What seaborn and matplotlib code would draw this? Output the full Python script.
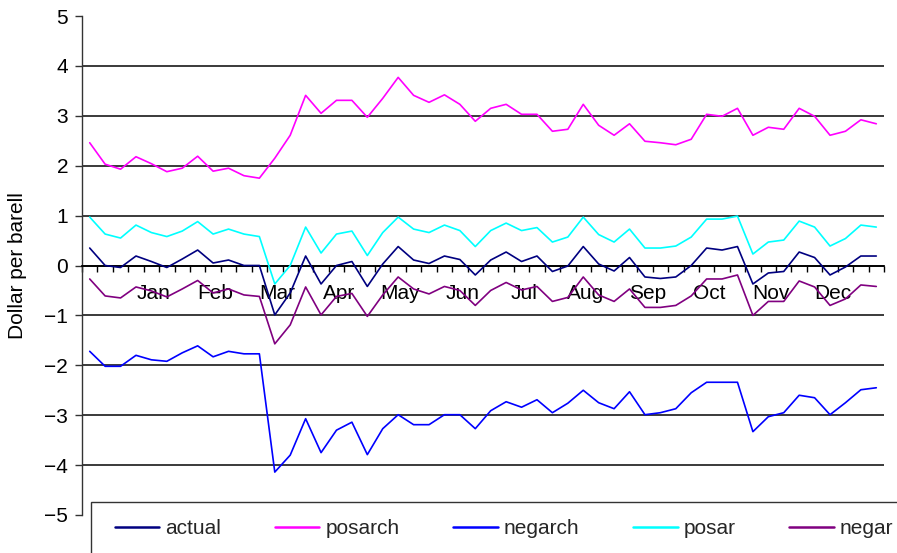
import numpy as np
import pandas as pd
import matplotlib
matplotlib.use("Agg")
import matplotlib.pyplot as plt
import seaborn as sns
from matplotlib.patches import Rectangle
from matplotlib.lines import Line2D

# Weekly oil price series (dollar per barrel), one value per week
week = list(range(52))

actual = [0.35, 0.00, -0.04, 0.19, 0.08, -0.04, 0.13, 0.31, 0.05, 0.11,
          0.00, 0.00, -0.99, -0.55, 0.19, -0.37, 0.00, 0.08, -0.42, 0.03,
          0.38, 0.11, 0.04, 0.19, 0.12, -0.19, 0.11, 0.27, 0.08, 0.19,
          -0.12, -0.01, 0.38, 0.03, -0.11, 0.16, -0.23, -0.26, -0.23, 0.00,
          0.35, 0.31, 0.38, -0.37, -0.15, -0.12, 0.27, 0.16, -0.19, -0.03,
          0.19, 0.19]

posarch = [2.46, 2.03, 1.93, 2.18, 2.04, 1.88, 1.95, 2.19, 1.89, 1.95,
           1.80, 1.75, 2.15, 2.61, 3.41, 3.05, 3.31, 3.31, 2.97, 3.35,
           3.77, 3.41, 3.27, 3.42, 3.23, 2.89, 3.15, 3.23, 3.03, 3.03,
           2.69, 2.73, 3.23, 2.81, 2.61, 2.84, 2.49, 2.46, 2.42, 2.53,
           3.03, 2.99, 3.15, 2.61, 2.77, 2.73, 3.15, 2.99, 2.61, 2.69,
           2.92, 2.84]

negarch = [-1.72, -2.02, -2.02, -1.80, -1.89, -1.92, -1.75, -1.61, -1.83, -1.72,
           -1.77, -1.77, -4.14, -3.80, -3.07, -3.75, -3.30, -3.14, -3.79, -3.27,
           -2.99, -3.19, -3.19, -2.99, -2.99, -3.27, -2.91, -2.73, -2.84, -2.69,
           -2.95, -2.76, -2.50, -2.75, -2.87, -2.53, -2.99, -2.95, -2.87, -2.55,
           -2.34, -2.34, -2.34, -3.33, -3.03, -2.95, -2.60, -2.65, -2.99, -2.75,
           -2.49, -2.45]

posar = [0.97, 0.63, 0.55, 0.81, 0.66, 0.58, 0.69, 0.88, 0.63, 0.73,
         0.63, 0.58, -0.37, 0.00, 0.77, 0.25, 0.63, 0.69, 0.20, 0.66,
         0.97, 0.73, 0.66, 0.81, 0.70, 0.38, 0.70, 0.85, 0.70, 0.76,
         0.47, 0.57, 0.97, 0.62, 0.47, 0.73, 0.35, 0.35, 0.39, 0.57,
         0.93, 0.93, 0.99, 0.23, 0.47, 0.51, 0.89, 0.77, 0.39, 0.54,
         0.81, 0.77]

negar = [-0.27, -0.61, -0.65, -0.43, -0.51, -0.63, -0.47, -0.30, -0.55, -0.47,
         -0.59, -0.62, -1.57, -1.19, -0.43, -0.99, -0.62, -0.56, -1.02, -0.59,
         -0.23, -0.47, -0.57, -0.42, -0.50, -0.80, -0.50, -0.34, -0.49, -0.42,
         -0.72, -0.64, -0.23, -0.59, -0.72, -0.47, -0.84, -0.84, -0.80, -0.61,
         -0.27, -0.27, -0.19, -1.00, -0.72, -0.72, -0.31, -0.43, -0.80, -0.67,
         -0.39, -0.42]

series_names = ["actual", "posarch", "negarch", "posar", "negar"]
series_colors = ["#000080", "#FF00FF", "#0000FF", "#00FFFF", "#800080"]

month_labels = ["Jan", "Feb", "Mar", "Apr", "May", "Jun",
                "Jul", "Aug", "Sep", "Oct", "Nov", "Dec"]
month_label_weeks = [4, 8, 12, 16, 20, 24, 28, 32, 36, 40, 44, 48]

y_ticks = list(range(-5, 6))

sns.set_theme(style="white")
plt.rcParams["font.family"] = ["Liberation Sans", "DejaVu Sans"]

df = pd.DataFrame({"week": week, "actual": actual, "posarch": posarch,
                   "negarch": negarch, "posar": posar, "negar": negar})
long_df = df.melt(id_vars="week", var_name="series", value_name="price")

fig = plt.figure(figsize=(8.97, 5.53), dpi=100)
fig.patch.set_facecolor("white")
ax = fig.add_axes([82 / 897, 1 - 515 / 553, 802 / 897, 499 / 553])

sns.lineplot(data=long_df, x="week", y="price", hue="series",
             hue_order=series_names, palette=series_colors,
             estimator=None, linewidth=1.2, legend=False, ax=ax, zorder=3)

ax.set_xlim(-0.5, len(week) - 0.5)
ax.set_ylim(-5, 5)
ax.set_yticks(y_ticks)
ax.set_xlabel("")
ax.set_ylabel("Dollar per barell", fontsize=15, color="black")
ax.yaxis.set_label_coords(-0.068, 0.5)

# horizontal gridlines at every whole dollar, except the outer limits
ax.yaxis.grid(True, color="#2b2b2b", linewidth=1.3)
ax.xaxis.grid(False)
for gl, v in zip(ax.get_ygridlines(), y_ticks):
    if abs(v) == 5:
        gl.set_visible(False)
ax.set_axisbelow(True)

for side in ("top", "right"):
    ax.spines[side].set_visible(False)
ax.spines["left"].set_color("#333333")
ax.spines["left"].set_linewidth(1.0)
ax.spines["bottom"].set_position(("data", 0))
ax.spines["bottom"].set_color("black")
ax.spines["bottom"].set_linewidth(1.3)

# month names as major ticks, week boundaries as minor ticks
ax.set_xticks([w + 0.15 for w in month_label_weeks], labels=month_labels)
ax.set_xticks(np.arange(-0.5, len(week), 1), minor=True)
ax.tick_params(axis="x", which="major", length=0, pad=13,
               labelsize=15, labelcolor="black")
ax.tick_params(axis="x", which="minor", length=4, width=1,
               direction="out", color="black", bottom=True)
ax.tick_params(axis="y", length=5, width=1, direction="out",
               color="#333333", left=True, labelsize=15, pad=5,
               labelcolor="black")

# legend box along the bottom edge
fig.patches.append(Rectangle((91 / 897, -0.05), 1.0, (553 - 502) / 553 + 0.05,
                             transform=fig.transFigure, facecolor="white",
                             edgecolor="#333333", linewidth=1.0, zorder=2))
handles = [Line2D([0], [0], color=c, lw=1.8) for c in series_colors]
fig.legend(handles, series_names, ncol=5, loc="center",
           bbox_to_anchor=(504 / 897, 1 - 529 / 553), frameon=False,
           fontsize=15, handlelength=2.15, handletextpad=0.3,
           columnspacing=2.55)

fig.savefig("out.png", dpi=100)
